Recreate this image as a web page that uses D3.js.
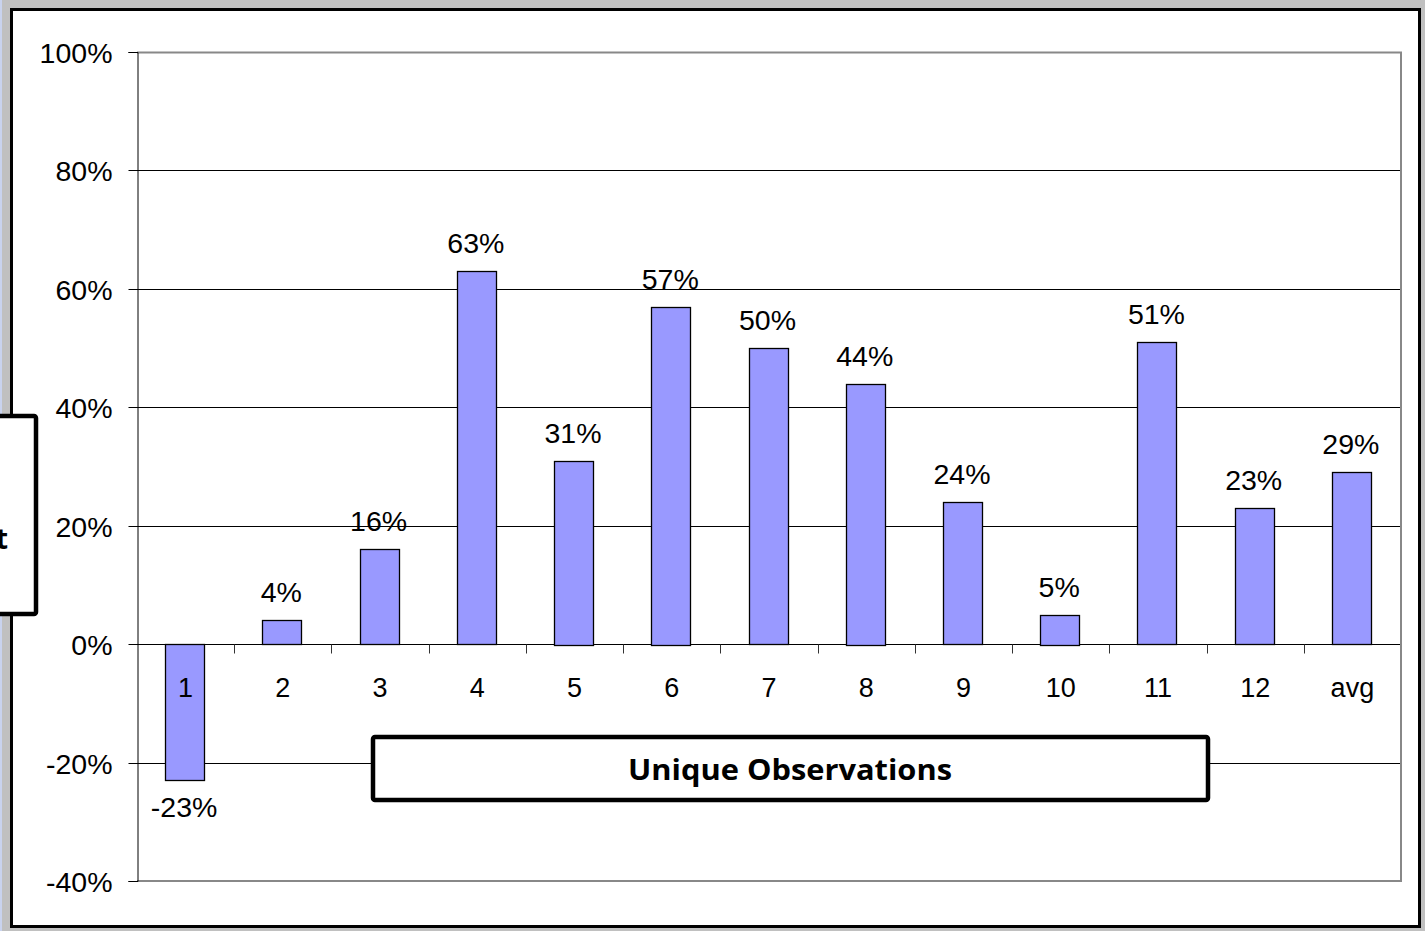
<!DOCTYPE html>
<html>
<head>
<meta charset="utf-8">
<script src="https://cdn.jsdelivr.net/npm/d3@7"></script>
<style>
  html, body { margin: 0; padding: 0; background: #c0c0c0; }
  svg { display: block; }
</style>
</head>
<body>
<svg id="chart" width="1425" height="931"></svg>
<script>
// Chart data
const categories = ["1", "2", "3", "4", "5", "6", "7", "8", "9", "10", "11", "12", "avg"];
const values = [-23, 4, 16, 63, 31, 57, 50, 44, 24, 5, 51, 23, 29];
const yTicks = [-40, -20, 0, 20, 40, 60, 80, 100];
const xTitle = "Unique Observations";
const yTitle = "t";

const svg = d3.select("#chart");
const W = 1425, H = 931;

// Page background and chart frame
svg.append("rect").attr("x", 0).attr("y", 0).attr("width", W).attr("height", H).attr("fill", "#c0c0c0");
svg.append("rect").attr("x", 0).attr("y", 0).attr("width", 2).attr("height", H).attr("fill", "#c9d3ee");
svg.append("rect").attr("x", 11.5).attr("y", 9.5).attr("width", 1408).attr("height", 917)
  .attr("fill", "#fff").attr("stroke", "#000").attr("stroke-width", 3);

// Plot area
const plot = { left: 137, right: 1401, top: 52, bottom: 881 };
const x = d3.scaleBand().domain(categories).range([plot.left, plot.right]).paddingInner(0).paddingOuter(0);
const y = d3.scaleLinear().domain([-40, 100]).range([plot.bottom, plot.top]);

const font = "'Liberation Sans', Arial, sans-serif";

// Horizontal gridlines
svg.append("g").selectAll("line").data(yTicks.filter(t => t !== -40 && t !== 100)).join("line")
  .attr("x1", plot.left).attr("x2", plot.right)
  .attr("y1", d => Math.round(y(d)) + 0.5).attr("y2", d => Math.round(y(d)) + 0.5)
  .attr("stroke", "#000").attr("stroke-width", 1);

// Plot border (top, right, bottom)
svg.append("path")
  .attr("d", `M${plot.left},${y(100) + 0.5}H${plot.right}V${y(-40)}H${plot.left}`)
  .attr("fill", "none").attr("stroke", "#888").attr("stroke-width", 2);

// Y axis
const yAxis = d3.axisLeft(y).tickValues(yTicks).tickSize(9).tickPadding(16)
  .tickFormat(d => d + "%");
const yg = svg.append("g").attr("transform", `translate(${plot.left + 0.5},0)`).call(yAxis);
yg.select(".domain").attr("stroke", "#000");
yg.selectAll(".tick line").attr("stroke", "#000");
yg.selectAll(".tick text").attr("font-family", font).attr("font-size", 28.5).attr("fill", "#000")
  .attr("dy", "0.36em");
yg.selectAll(".tick").attr("transform", d => `translate(0,${Math.round(y(d)) + 0.5})`);

// Category tick marks along the zero line
const zeroY = Math.round(y(0)) + 0.5;
const bounds = categories.map(c => x(c) + x.bandwidth()).slice(0, -1);
svg.append("g").selectAll("line").data(bounds).join("line")
  .attr("x1", d => Math.round(d) + 0.5).attr("x2", d => Math.round(d) + 0.5)
  .attr("y1", zeroY).attr("y2", zeroY + 9)
  .attr("stroke", "#333").attr("stroke-width", 1);

// Bars
const barW = 39;
svg.append("g").selectAll("rect").data(categories).join("rect")
  .attr("x", c => Math.round(x(c) + x.bandwidth() / 2 - barW / 2) - 0.5)
  .attr("width", barW)
  .attr("y", (c, i) => Math.round(y(Math.max(0, values[i]))) + 0.5)
  .attr("height", (c, i) => Math.round(Math.abs(y(values[i]) - y(0))))
  .attr("fill", "#9999ff").attr("stroke", "#000").attr("stroke-width", 1.3);

// Category labels
svg.append("g").selectAll("text").data(categories).join("text")
  .attr("x", c => x(c) + x.bandwidth() / 2)
  .attr("y", 697)
  .attr("text-anchor", "middle")
  .attr("font-family", font).attr("font-size", 27).attr("fill", "#000")
  .text(c => c);

// Value labels
svg.append("g").selectAll("text").data(categories).join("text")
  .attr("x", c => x(c) + x.bandwidth() / 2 - 1.5)
  .attr("y", (c, i) => values[i] >= 0 ? y(values[i]) - 18 : y(values[i]) + 37)
  .attr("text-anchor", "middle")
  .attr("font-family", font).attr("font-size", 28.5).attr("fill", "#000")
  .text((c, i) => values[i] + "%");

// X axis title box
svg.append("rect").attr("x", 373).attr("y", 737).attr("width", 835).attr("height", 63).attr("rx", 2)
  .attr("fill", "#fff").attr("stroke", "#000").attr("stroke-width", 4.5);
svg.append("text").attr("x", 790).attr("y", 780).attr("text-anchor", "middle")
  .attr("font-family", "'Open Sans', 'Noto Sans', sans-serif").attr("font-weight", "bold")
  .attr("font-size", 29).attr("textLength", 324).attr("lengthAdjust", "spacingAndGlyphs")
  .attr("fill", "#000").text(xTitle);

// Y axis title box (extends past the left edge)
svg.append("rect").attr("x", -20).attr("y", 416).attr("width", 56).attr("height", 198).attr("rx", 2)
  .attr("fill", "#fff").attr("stroke", "#000").attr("stroke-width", 4.5);
svg.append("text").attr("x", 8).attr("y", 549).attr("text-anchor", "end")
  .attr("font-family", "'Open Sans', 'Noto Sans', sans-serif").attr("font-weight", "bold")
  .attr("font-size", 29).attr("fill", "#000").text(yTitle);
</script>
</body>
</html>
